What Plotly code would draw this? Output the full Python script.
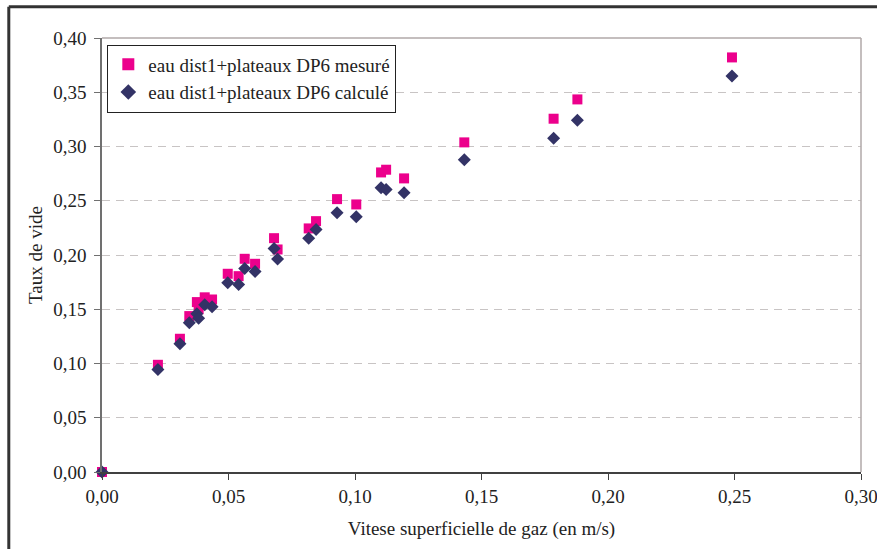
import plotly.graph_objects as go

vitesse = [0, 0.0221, 0.0308, 0.0345, 0.0375, 0.0382, 0.0406, 0.0435, 0.0497, 0.0540,
           0.0564, 0.0605, 0.0680, 0.0694, 0.0817, 0.0846, 0.0929, 0.1005, 0.1103,
           0.1123, 0.1194, 0.1432, 0.1785, 0.1879, 0.2490]
mesure = [0, 0.0988, 0.1228, 0.1437, 0.1566, 0.1500, 0.1610, 0.1590, 0.1827, 0.1805,
          0.1965, 0.1919, 0.2155, 0.2051, 0.2245, 0.2312, 0.2515, 0.2466, 0.2761,
          0.2786, 0.2706, 0.3038, 0.3256, 0.3434, 0.3821]
calcule = [0, 0.0945, 0.1182, 0.1375, 0.1458, 0.1418, 0.1541, 0.1523, 0.1744, 0.1729,
           0.1876, 0.1848, 0.2060, 0.1962, 0.2155, 0.2236, 0.2390, 0.2353, 0.2620,
           0.2604, 0.2574, 0.2878, 0.3077, 0.3243, 0.3649]

x_ticks = [0, 0.05, 0.10, 0.15, 0.20, 0.25, 0.30]
y_ticks = [0, 0.05, 0.10, 0.15, 0.20, 0.25, 0.30, 0.35, 0.40]

FONT = "'Liberation Serif', Tinos, 'Times New Roman', Times, 'DejaVu Serif', serif"
FS = 19
fig = go.Figure()
fig.add_trace(go.Scatter(x=vitesse, y=mesure, mode="markers",
                         name="eau dist1+plateaux DP6 mesuré",
                         marker=dict(symbol="square", size=10, color="#EC008C"),
                         cliponaxis=False))
fig.add_trace(go.Scatter(x=vitesse, y=calcule, mode="markers",
                         name="eau dist1+plateaux DP6 calculé",
                         marker=dict(symbol="diamond", size=10, color="#333366"),
                         cliponaxis=False))

fig.update_layout(
    width=877, height=549,
    margin=dict(l=102, r=16, t=38, b=77, pad=0, autoexpand=False),
    paper_bgcolor="white", plot_bgcolor="white",
    separators=", ",
    font=dict(family=FONT, size=FS, color="#222222"),
    showlegend=True,
    legend=dict(x=0.007, y=0.985, xanchor="left", yanchor="top",
                bgcolor="white", bordercolor="#222222", borderwidth=1,
                font=dict(family=FONT, size=FS, color="#222222"),
                itemsizing="constant", tracegroupgap=0, itemwidth=30),
    xaxis=dict(range=[0, 0.30], tickvals=x_ticks, tickformat=".2f",
               automargin=False, ticklabeloverflow="allow",
               showgrid=False, zeroline=False, showline=True,
               linecolor="#404040", linewidth=1.5,
               ticks="outside", ticklen=6, tickcolor="#404040",
               title=dict(text="Vitese superficielle de gaz (en m/s)", standoff=16,
                          font=dict(family=FONT, size=FS))),
    yaxis=dict(range=[0, 0.40], tickvals=y_ticks, tickformat=".2f",
               automargin=False, ticklabelstandoff=4,
               showgrid=True, gridcolor="#C8C4C4", griddash="8px,6px", gridwidth=1,
               zeroline=False, showline=True,
               linecolor="#707070", linewidth=1.5,
               ticks="outside", ticklen=6, tickcolor="#707070",
               title=dict(text="Taux de vide", standoff=6,
                          font=dict(family=FONT, size=FS))),
)

# plot area border (top/right) in light gray
fig.add_shape(type="line", xref="paper", yref="paper", x0=0, x1=1, y0=1, y1=1,
              line=dict(color="#B0A8A8", width=1.5))
fig.add_shape(type="line", xref="paper", yref="paper", x0=1, x1=1, y0=0, y1=1,
              line=dict(color="#B0A8A8", width=1.5))
# outer frame (top and left)
fig.add_shape(type="line", xref="paper", yref="paper", x0=-0.1228, x1=1.05,
              y0=1.072, y1=1.072, line=dict(color="#333333", width=3))
fig.add_shape(type="line", xref="paper", yref="paper", x0=-0.1228, x1=-0.1228,
              y0=1.072, y1=-0.2, line=dict(color="#333333", width=3))

fig.write_html("out.html", config={"displayModeBar": False},
               post_script="document.body.style.margin='0';")
